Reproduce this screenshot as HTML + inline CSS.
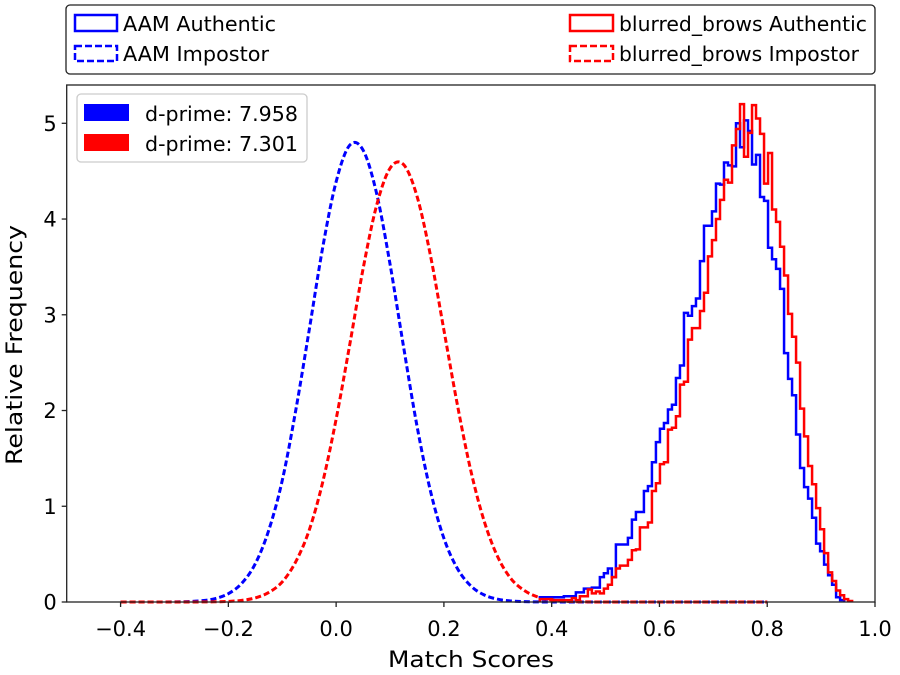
<!DOCTYPE html>
<html><head><meta charset="utf-8"><style>
html,body{margin:0;padding:0;background:#fff;}
svg{display:block;font-family:"DejaVu Sans","Liberation Sans",sans-serif;}
</style></head><body>
<svg id="chart" width="900" height="675" viewBox="0 0 900 675">
<rect x="0" y="0" width="900" height="675" fill="#fff"/>
<g id="marks"></g>
<g id="axes"></g>
</svg>
<script>
// ---- data ----
const impX = [-0.4,-0.375,-0.35,-0.325,-0.3,-0.275,-0.25,-0.225,-0.2,-0.175,-0.15,-0.125,-0.1,-0.075,-0.05,-0.025,0,0.025,0.05,0.075,0.1,0.125,0.15,0.175,0.2,0.225,0.25,0.275,0.3,0.325,0.35,0.375,0.4,0.425,0.45,0.475,0.5,0.55,0.6,0.65,0.7,0.75,0.8];
const aamImpostor = [0,0,0.0001,0.0004,0.0014,0.0045,0.013,0.035,0.087,0.196,0.40,0.75,1.27,2.00,2.84,3.70,4.39,4.77,4.72,4.27,3.53,2.67,1.84,1.16,0.665,0.35,0.168,0.073,0.029,0.011,0.0036,0.001,0,0,0,0,0,0,0,0,0,0,0];
const blurImpostor = [0,0,0,0,0,0.0003,0.0007,0.0021,0.0063,0.017,0.043,0.10,0.21,0.42,0.75,1.25,1.91,2.68,3.48,4.14,4.53,4.57,4.24,3.62,2.84,2.06,1.37,0.84,0.47,0.24,0.117,0.051,0.021,0.0077,0.0026,0.0008,0,0,0,0,0,0,0];
const binWidth = 0.00743;
const aamStart = 0.378;
const aamAuthentic = [0.05,0.05,0.05,0.05,0.05,0.05,0.06,0.06,0.06,0.10,0.10,0.14,0.14,0.15,0.15,0.26,0.30,0.35,0.26,0.60,0.60,0.60,0.67,0.86,0.94,0.94,1.16,1.21,1.46,1.67,1.81,1.87,2.01,2.06,2.34,2.47,3.02,2.99,3.09,3.17,3.56,3.93,3.93,4.08,4.37,4.36,4.59,4.56,4.55,5.0,4.75,5.03,4.92,4.57,4.67,4.23,4.19,3.70,3.58,3.48,3.27,2.60,2.33,2.16,1.75,1.40,1.20,1.08,0.88,0.61,0.53,0.39,0.28,0.18,0.05,0.02];
const blurStart = 0.378;
const blurAuthentic = [0.03,0.03,0.03,0.02,0.02,0.02,0.02,0.02,0.04,0.02,0.06,0.06,0.13,0.09,0.11,0.09,0.14,0.18,0.26,0.35,0.38,0.38,0.44,0.54,0.55,0.78,0.78,0.83,1.16,1.24,1.44,1.46,1.80,1.82,1.94,2.27,2.30,2.74,2.86,2.86,3.04,3.23,3.61,3.78,4.0,4.2,4.41,4.38,4.77,4.94,5.2,4.65,4.9,5.19,5.05,4.89,4.37,4.69,4.1,3.97,3.71,3.41,3.01,2.77,2.5,2.02,1.73,1.42,1.23,0.98,0.76,0.51,0.31,0.22,0.12,0.07,0.03,0.01];
const xTicks = [-0.4,-0.2,0.0,0.2,0.4,0.6,0.8,1.0];
const xTickLabels = ["\u22120.4","\u22120.2","0.0","0.2","0.4","0.6","0.8","1.0"];
const yTicks = [0,1,2,3,4,5];
const yTickLabels = ["0","1","2","3","4","5"];

// ---- layout ----
const L=66.7,R=875,T=85,B=602;
const xMin=-0.5,xMax=1.0,yMin=0,yMax=5.4;
const sx=v=>L+(v-xMin)/(xMax-xMin)*(R-L);
const sy=v=>B-(v-yMin)/(yMax-yMin)*(B-T);
const NS="http://www.w3.org/2000/svg";
function mk(tag,attrs,parent){const e=document.createElementNS(NS,tag);for(const k in attrs)e.setAttribute(k,attrs[k]);parent.appendChild(e);return e;}
const marks=document.getElementById('marks'), axes=document.getElementById('axes');

function stepPath(start,vals){
  let d='M'+sx(start).toFixed(2)+','+sy(0).toFixed(2);
  vals.forEach((v,i)=>{const x0=sx(start+i*binWidth),x1=sx(start+(i+1)*binWidth);
    d+=' L'+x0.toFixed(2)+','+sy(v).toFixed(2)+' L'+x1.toFixed(2)+','+sy(v).toFixed(2);});
  d+=' L'+sx(start+vals.length*binWidth).toFixed(2)+','+sy(0).toFixed(2);
  return d;
}
function smoothPath(xs,ys){
  const P=xs.map((x,i)=>[sx(x),sy(ys[i])]);
  let d='M'+P[0][0].toFixed(2)+','+P[0][1].toFixed(2);
  for(let i=0;i<P.length-1;i++){
    const p0=P[Math.max(0,i-1)],p1=P[i],p2=P[i+1],p3=P[Math.min(P.length-1,i+2)];
    const c1=[p1[0]+(p2[0]-p0[0])/6,p1[1]+(p2[1]-p0[1])/6];
    const c2=[p2[0]-(p3[0]-p1[0])/6,p2[1]-(p3[1]-p1[1])/6];
    d+=' C'+c1[0].toFixed(2)+','+Math.min(B,c1[1]).toFixed(2)+' '+c2[0].toFixed(2)+','+Math.min(B,c2[1]).toFixed(2)+' '+p2[0].toFixed(2)+','+p2[1].toFixed(2);
  }
  return d;
}

let p;
p=mk('path',{d:smoothPath(impX,aamImpostor),fill:'none',stroke:'#0000ff','stroke-width':3,'stroke-dasharray':'6,3'},marks);


p=mk('path',{d:smoothPath(impX,blurImpostor),fill:'none',stroke:'#ff0000','stroke-width':3,'stroke-dasharray':'6,3'},marks);


p=mk('path',{d:stepPath(aamStart,aamAuthentic),fill:'none',stroke:'#0000ff','stroke-width':2.5},marks);


p=mk('path',{d:stepPath(blurStart,blurAuthentic),fill:'none',stroke:'#ff0000','stroke-width':2.5},marks);



// frame
p=mk('rect',{x:L,y:T,width:R-L,height:B-T,fill:'none',stroke:'#222','stroke-width':1.3},axes);



xTicks.forEach((v,i)=>{
  const t=mk('line',{x1:sx(v),x2:sx(v),y1:B,y2:B+5,stroke:'#222','stroke-width':1.3},axes);
  
  
  const lb=mk('text',{x:sx(v),y:B+34,'font-size':21,'text-anchor':'middle',fill:'#000'},axes);
  lb.textContent=xTickLabels[i];
  
  
});
yTicks.forEach((v,i)=>{
  const t=mk('line',{x1:L-5,x2:L,y1:sy(v),y2:sy(v),stroke:'#222','stroke-width':1.3},axes);
  
  
  const lb=mk('text',{x:L-10,y:sy(v)+7.5,'font-size':21,'text-anchor':'end',fill:'#000'},axes);
  lb.textContent=yTickLabels[i];
  
  
});
</script>
<svg width="900" height="675" style="position:absolute;left:0;top:0;font-family:'DejaVu Sans','Liberation Sans',sans-serif;">
<text x="388" y="667" font-size="22" textLength="166" lengthAdjust="spacingAndGlyphs">Match Scores</text>
<text transform="translate(22,465) rotate(-90)" font-size="22" textLength="240" lengthAdjust="spacingAndGlyphs">Relative Frequency</text>
<g>
<rect x="66" y="5" width="809" height="69" rx="4" fill="#fff" stroke="#222" stroke-width="1.3"/>
<rect x="75" y="15" width="42" height="16" fill="none" stroke="#0000ff" stroke-width="2.5"/>
<text x="123" y="31" font-size="20" textLength="153" lengthAdjust="spacingAndGlyphs">AAM Authentic</text>
<rect x="75" y="46" width="42" height="15" fill="none" stroke="#0000ff" stroke-width="2.5" stroke-dasharray="7,3"/>
<text x="123" y="61" font-size="20" textLength="146" lengthAdjust="spacingAndGlyphs">AAM Impostor</text>
<rect x="570" y="15" width="43" height="16" fill="none" stroke="#ff0000" stroke-width="2.5"/>
<text x="619" y="31" font-size="20" textLength="248" lengthAdjust="spacingAndGlyphs">blurred_brows Authentic</text>
<rect x="570" y="46" width="43" height="15" fill="none" stroke="#ff0000" stroke-width="2.5" stroke-dasharray="7,3"/>
<text x="619" y="61" font-size="20" textLength="240" lengthAdjust="spacingAndGlyphs">blurred_brows Impostor</text>
</g>
<g>
<rect x="77" y="94" width="230" height="68" rx="4" fill="#fff" fill-opacity="0.8" stroke="#ccc" stroke-width="1.3"/>
<rect x="84" y="104" width="45" height="17" fill="#0000ff"/>
<text x="145" y="121" font-size="20" textLength="153" lengthAdjust="spacingAndGlyphs">d-prime: 7.958</text>
<rect x="84" y="134" width="45" height="17" fill="#ff0000"/>
<text x="145" y="151" font-size="20" textLength="153" lengthAdjust="spacingAndGlyphs">d-prime: 7.301</text>
</g>
</svg>
</body></html>
